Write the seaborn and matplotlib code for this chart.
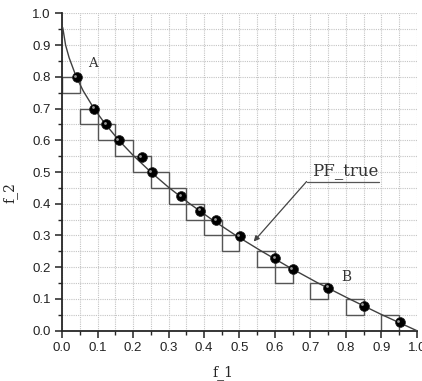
import matplotlib
matplotlib.use("Agg")
import matplotlib.pyplot as plt
import seaborn as sns
import pandas as pd
import numpy as np
from matplotlib.patches import Rectangle
from matplotlib.ticker import MultipleLocator

# Pareto front curve
curve_f1 = [0.002, 0.01, 0.02, 0.04, 0.06, 0.09, 0.12, 0.16, 0.20, 0.25, 0.30,
            0.36, 0.42, 0.49, 0.56, 0.64, 0.72, 0.81, 0.90, 1.00]
curve_f2 = [0.955, 0.90, 0.86, 0.80, 0.755, 0.70, 0.654, 0.60, 0.553, 0.50, 0.452,
            0.40, 0.352, 0.30, 0.252, 0.20, 0.151, 0.10, 0.051, 0.0]

# solution points
pts_f1 = [0.041, 0.091, 0.124, 0.16, 0.2245, 0.253, 0.335, 0.39, 0.434, 0.501,
          0.60, 0.65, 0.75, 0.85, 0.951]
pts_f2 = [0.80, 0.70, 0.651, 0.60, 0.547, 0.50, 0.423, 0.378, 0.349, 0.297,
          0.228, 0.195, 0.136, 0.079, 0.026]

# boxes (lower-left corners), side 0.05
box_x = [0.0, 0.05, 0.10, 0.15, 0.20, 0.25, 0.30, 0.35, 0.40, 0.45, 0.55, 0.60, 0.70, 0.80, 0.90]
box_y = [0.75, 0.65, 0.60, 0.55, 0.50, 0.45, 0.40, 0.35, 0.30, 0.25, 0.20, 0.15, 0.10, 0.05, 0.0]
box_side = 0.05

sns.set_style("ticks")
plt.rcParams['font.family'] = ['Liberation Sans', 'DejaVu Sans']

fig = plt.figure(figsize=(4.22, 3.81), dpi=100)
ax = fig.add_axes([0.147, 0.132, 0.841, 0.833])

ax.set_xlim(0, 1.0)
ax.set_ylim(0, 1.0)
ax.xaxis.set_major_locator(MultipleLocator(0.1))
ax.yaxis.set_major_locator(MultipleLocator(0.1))
ax.xaxis.set_minor_locator(MultipleLocator(0.05))
ax.yaxis.set_minor_locator(MultipleLocator(0.05))
ax.grid(True, which='both', color='#c4c4c4', linestyle=(0, (1, 1)), linewidth=0.8)
ax.set_axisbelow(True)

for bx, by in zip(box_x, box_y):
    ax.add_patch(Rectangle((bx, by), box_side, box_side, fill=False,
                           edgecolor='#555555', linewidth=1.0, zorder=2))

curve_df = pd.DataFrame({'f_1': curve_f1, 'f_2': curve_f2})
sns.lineplot(data=curve_df, x='f_1', y='f_2', ax=ax, color='#404040',
             linewidth=1.0, sort=False, estimator=None, zorder=3)

pts_df = pd.DataFrame({'f_1': pts_f1, 'f_2': pts_f2})
sns.scatterplot(data=pts_df, x='f_1', y='f_2', ax=ax, color='black', s=50,
                edgecolor='#222222', linewidth=0.5, zorder=4)
# small highlight on the balls
ax.scatter(np.array(pts_f1) - 0.004, np.array(pts_f2) + 0.004, s=4,
           color='#9a9a9a', linewidth=0, zorder=5)

sns.despine(ax=ax)
ax.spines['left'].set_linewidth(1.3)
ax.spines['bottom'].set_linewidth(1.3)
ax.tick_params(which='major', direction='out', length=5, width=1.1,
               labelsize=9.5, colors='#222222', pad=3)
ax.tick_params(which='minor', direction='out', length=3, width=1.0)

ax.set_xlabel('f_1', family='DejaVu Serif', fontsize=10)
ax.set_ylabel('f_2', family='DejaVu Serif', fontsize=10)
ax.xaxis.set_label_coords(0.454, -0.108)
ax.yaxis.set_label_coords(-0.125, 0.434)

ax.text(0.088, 0.843, 'A', family='DejaVu Serif', fontsize=9.5,
        ha='center', va='center', color='#333333')
ax.text(0.80, 0.168, 'B', family='DejaVu Serif', fontsize=10,
        ha='center', va='center', color='#333333')

ax.text(0.705, 0.477, 'PF_true', family='DejaVu Serif', fontsize=12,
        ha='left', va='bottom', color='#333333')
ax.plot([0.689, 0.894], [0.47, 0.47], color='#555555', linewidth=0.9,
        clip_on=False)
ax.annotate('', xy=(0.54, 0.281), xytext=(0.689, 0.47),
            arrowprops=dict(arrowstyle='-|>', color='#444444', lw=0.9,
                            mutation_scale=8, shrinkA=0, shrinkB=0))

fig.savefig('out.png', dpi=100)
